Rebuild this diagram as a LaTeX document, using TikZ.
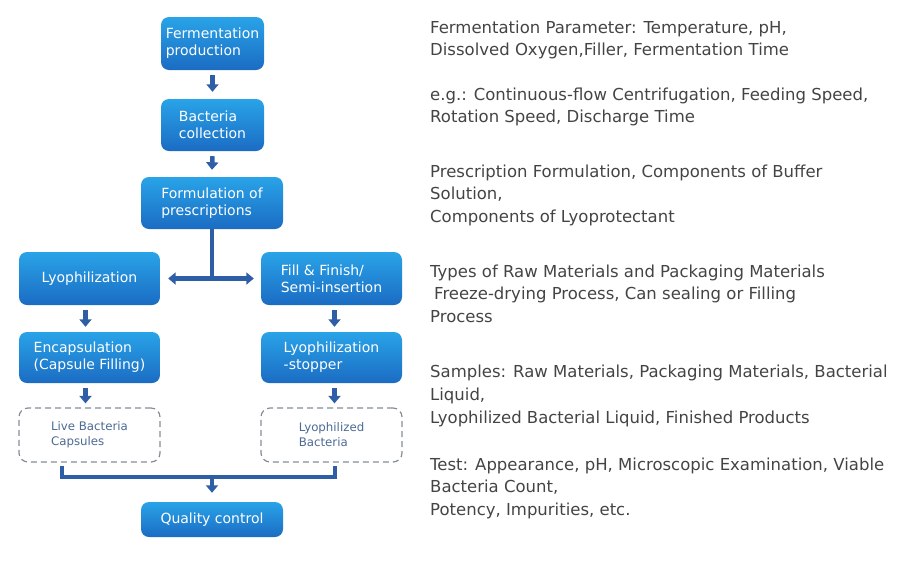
\documentclass[tikz,border=0pt]{standalone}
\usepackage{fontspec}
\setmainfont{DejaVu Sans}
\usetikzlibrary{arrows.meta,shadows}
\definecolor{boxtop}{HTML}{29A3E8}
\definecolor{boxbot}{HTML}{1B6CC3}
\definecolor{arrc}{HTML}{2E5FA6}
\definecolor{dashc}{HTML}{858C96}
\definecolor{dtext}{HTML}{4C6A94}
\definecolor{rtext}{HTML}{444444}
\tikzset{
  procbox/.style={rounded corners=8pt, top color=boxtop, bottom color=boxbot, draw=none,
    text=white, align=left, inner sep=0pt, font=\fontsize{14}{17}\selectfont},
  outbox/.style={rounded corners=9pt, draw=dashc, line width=1.2pt, dash pattern=on 6pt off 4pt,
    text=dtext, align=left, inner sep=0pt, font=\fontsize{11.8}{15}\selectfont},
  arr/.style={draw=arrc, line width=4.5pt, -{Triangle[width=12pt,length=7.5pt]}},
  conn/.style={draw=arrc, line width=4.5pt},
  note/.style={anchor=base west, align=left, inner sep=0pt, text=rtext, font=\fontsize{16.5}{22.8}\selectfont}
}
\begin{document}
\begin{tikzpicture}[x=1pt,y=-1pt]
\useasboundingbox (0,0) rectangle (912,571);
% process boxes
\node[procbox, minimum width=103pt, minimum height=53pt] (f1) at (212.5,43.5) {Fermentation\\production};
\node[procbox, minimum width=103pt, minimum height=52pt] (f2) at (212.5,125) {Bacteria\\collection};
\node[procbox, minimum width=142pt, minimum height=52pt] (f3) at (212,203) {Formulation of\\prescriptions};
\node[procbox, minimum width=141pt, minimum height=53pt] (ly) at (89.5,278.5) {Lyophilization};
\node[procbox, minimum width=141pt, minimum height=53pt] (ff) at (331.5,278.5) {Fill \& Finish/\\Semi-insertion};
\node[procbox, minimum width=141pt, minimum height=51pt] (en) at (89.5,357.5) {Encapsulation\\(Capsule Filling)};
\node[procbox, minimum width=141pt, minimum height=51pt] (ls) at (331.5,357.5) {Lyophilization\\-stopper};
\node[outbox, minimum width=141pt, minimum height=54pt] (d1) at (89.5,435) {Live Bacteria\\Capsules};
\node[outbox, minimum width=141pt, minimum height=54pt] (d2) at (331.5,435) {Lyophilized\\Bacteria};
\node[procbox, minimum width=142pt, minimum height=35pt] (qc) at (212,519.5) {Quality control};
% connectors
\draw[arr] ([yshift=-5pt]f1.south) -- ([yshift=7pt]f2.north);
\draw[arr] ([yshift=-5pt]f2.south) -- ([yshift=7pt]f3.north);
\coordinate (br) at (f3.south |- ly.east);
\draw[conn] (f3.south) -- ([yshift=-2.25pt]br);
\draw[arr] ([xshift=2pt]br) -- ([xshift=8pt]ly.east);
\draw[arr] ([xshift=-2pt]br) -- ([xshift=-7pt]ff.west);
\draw[arr] ([xshift=-4pt,yshift=-5pt]ly.south) -- ([xshift=-4pt,yshift=5pt]en.north);
\draw[arr] ([xshift=3pt,yshift=-5pt]ff.south) -- ([xshift=3pt,yshift=5pt]ls.north);
\draw[arr] ([xshift=-4pt,yshift=-5pt]en.south) -- ([xshift=-4pt,yshift=4pt]d1.north);
\draw[arr] ([xshift=3pt,yshift=-5pt]ls.south) -- ([xshift=3pt,yshift=4pt]d2.north);
\coordinate (b1) at ([xshift=-27.5pt,yshift=-3pt]d1.south);
\coordinate (b2) at ([xshift=3.5pt,yshift=-3pt]d2.south);
\coordinate (bm) at (qc.north |- 0,477);
\draw[conn, line join=miter] (b1) |- (bm) -| (b2);
\draw[arr] ([yshift=2pt]bm) -- ([yshift=9pt]qc.north);
% notes (anchor = baseline of last line)
\node[note] (t1) at (430,55.8) {Fermentation Parameter: Temperature, pH,\\Dissolved Oxygen,Filler, Fermentation Time};
\node[note] (t2) at (430,122.8) {e.g.: Continuous-flow Centrifugation, Feeding Speed,\\Rotation Speed, Discharge Time};
\node[note] (t3) at (430,222.6) {Prescription Formulation, Components of Buffer\\Solution,\\Components of Lyoprotectant};
\node[note] (t4) at (430,322.6) {Types of Raw Materials and Packaging Materials\\\hspace*{4pt}Freeze-drying Process, Can sealing or Filling\\Process};
\node[note] (t5) at (430,423.1) {Samples: Raw Materials, Packaging Materials, Bacterial\\Liquid,\\Lyophilized Bacterial Liquid, Finished Products};
\node[note] (t6) at (430,515.6) {Test: Appearance, pH, Microscopic Examination, Viable\\Bacteria Count,\\Potency, Impurities, etc.};
\end{tikzpicture}
\end{document}
